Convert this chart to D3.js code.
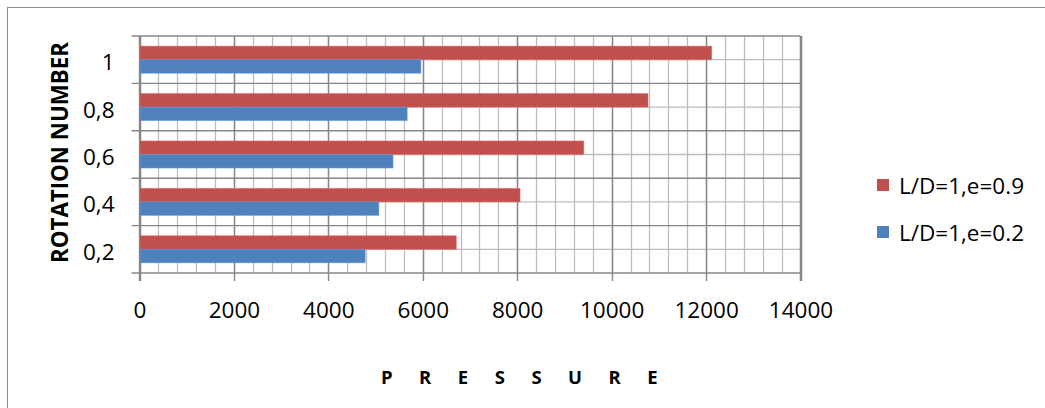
<!DOCTYPE html>
<html>
<head>
<meta charset="utf-8">
<script src="https://cdn.jsdelivr.net/npm/d3@7"></script>
<style>
  html, body { margin: 0; padding: 0; background: #ffffff; }
  svg { display: block; }
  text { font-family: "Open Sans", "Noto Sans", sans-serif; fill: #000; }
</style>
</head>
<body>
<svg id="chart" width="1045" height="408"></svg>
<script>
// Rotation numbers, listed bottom to top
const categories = ["0,2", "0,4", "0,6", "0,8", "1"];
// Pressure for each rotation number
const seriesE09 = [6710, 8060, 9410, 10770, 12120];
const seriesE02 = [4780, 5070, 5370, 5670, 5960];
const seriesNames = ["L/D=1,e=0.9", "L/D=1,e=0.2"];
const seriesColors = ["#C0504D", "#4F81BD"];
const xTicks = [0, 2000, 4000, 6000, 8000, 10000, 12000, 14000];

const svg = d3.select("#chart");
const plot = { left: 139.5, right: 800.5, top: 36, bottom: 273 };

// outer chart frame (left and top edges fall inside the view)
svg.append("rect")
  .attr("x", 7.5).attr("y", 7.5)
  .attr("width", 1100).attr("height", 500)
  .attr("fill", "none").attr("stroke", "#8c8c8c").attr("stroke-width", 1);

const x = d3.scaleLinear().domain([0, 14000]).range([plot.left, plot.right]);
const y = d3.scaleBand().domain(categories.slice().reverse()).range([plot.top, plot.bottom]);

// series placement inside each category band (gap width 75%)
const band = y.bandwidth();
const gap = band * 0.75 / 1.75 / 2;
const inner = d3.scaleBand().domain(seriesNames).range([gap, band - gap]);

const g = svg.append("g");

// minor vertical gridlines every 400
const minorX = d3.range(0, 14001, 400);
g.selectAll("line.minorx").data(minorX).join("line")
  .attr("x1", d => Math.round(x(d)) + 0.5).attr("x2", d => Math.round(x(d)) + 0.5)
  .attr("y1", plot.top).attr("y2", plot.bottom)
  .attr("stroke", "#bdbdbd").attr("stroke-width", 1.3);

// minor horizontal gridlines at band centres
g.selectAll("line.minory").data(categories).join("line")
  .attr("x1", plot.left).attr("x2", plot.right)
  .attr("y1", d => y(d) + band / 2).attr("y2", d => y(d) + band / 2)
  .attr("stroke", "#bdbdbd").attr("stroke-width", 1.3);

// major vertical gridlines every 2000
g.selectAll("line.majorx").data(xTicks).join("line")
  .attr("x1", d => Math.round(x(d)) + 0.5).attr("x2", d => Math.round(x(d)) + 0.5)
  .attr("y1", plot.top).attr("y2", plot.bottom + 8)
  .attr("stroke", "#878787").attr("stroke-width", 1.4);

// major horizontal gridlines on band boundaries, with outside ticks
const bounds = categories.map(c => y(c)).concat([plot.bottom]);
g.selectAll("line.majory").data(bounds).join("line")
  .attr("x1", plot.left - 8).attr("x2", plot.right)
  .attr("y1", d => d).attr("y2", d => d)
  .attr("stroke", "#878787").attr("stroke-width", 1.4);

// bars
const rows = categories.map((c, i) => ({ c, values: [seriesE09[i], seriesE02[i]] }));
const groups = g.selectAll("g.cat").data(rows).join("g")
  .attr("transform", d => `translate(0,${y(d.c)})`);
groups.selectAll("rect").data(d => d.values.map((v, k) => ({ v, k })))
  .join("rect")
  .attr("x", x(0))
  .attr("y", d => inner(seriesNames[d.k]))
  .attr("width", d => x(d.v) - x(0))
  .attr("height", inner.bandwidth())
  .attr("fill", d => seriesColors[d.k])
  .attr("stroke", d => d3.color(seriesColors[d.k]).brighter(0.6))
  .attr("stroke-opacity", 0.6)
  .attr("stroke-width", 0.8);

// axis lines
g.append("line")
  .attr("x1", plot.left).attr("x2", plot.left)
  .attr("y1", plot.top).attr("y2", plot.bottom + 8)
  .attr("stroke", "#878787").attr("stroke-width", 1.4);
g.append("line")
  .attr("x1", plot.right).attr("x2", plot.right)
  .attr("y1", plot.top).attr("y2", plot.bottom + 8)
  .attr("stroke", "#878787").attr("stroke-width", 1.6);

// x tick labels
const xAxis = d3.axisBottom(x).tickValues(xTicks).tickSize(0).tickPadding(0).tickFormat(d3.format("d"));
const xa = svg.append("g").attr("transform", `translate(0,${plot.bottom + 36})`).call(xAxis);
xa.select(".domain").remove();
xa.selectAll("text").attr("font-size", 22.5).attr("dy", null)
  .attr("dominant-baseline", "central").attr("font-family", "'Open Sans', sans-serif");

// y tick labels
const yAxis = d3.axisLeft(y).tickSize(0).tickPadding(0);
const ya = svg.append("g").attr("transform", `translate(${plot.left - 25},2)`).call(yAxis);
ya.select(".domain").remove();
ya.selectAll("text").attr("font-size", 22.5).attr("dy", null)
  .attr("dominant-baseline", "central").attr("font-family", "'Open Sans', sans-serif");

// axis titles
svg.append("text")
  .attr("transform", `translate(68,${(plot.top + plot.bottom) / 2 - 2}) rotate(-90)`)
  .attr("text-anchor", "middle")
  .attr("font-size", 22.3).attr("font-weight", "bold")
  .text("ROTATION NUMBER");

svg.append("text")
  .attr("x", 381).attr("y", 384)
  .attr("font-size", 18.5).attr("font-weight", "bold")
  .attr("letter-spacing", 26.5)
  .text("PRESSURE");

// legend
const legend = svg.append("g").attr("transform", "translate(877,185)");
const items = legend.selectAll("g").data(seriesNames).join("g")
  .attr("transform", (d, i) => `translate(0,${i * 47})`);
items.append("rect")
  .attr("x", 0).attr("y", -6).attr("width", 12).attr("height", 12)
  .attr("fill", (d, i) => seriesColors[i]);
items.append("text")
  .attr("x", 22).attr("y", 0)
  .attr("dominant-baseline", "central")
  .attr("font-size", 22.5)
  .text(d => d);
</script>
</body>
</html>
